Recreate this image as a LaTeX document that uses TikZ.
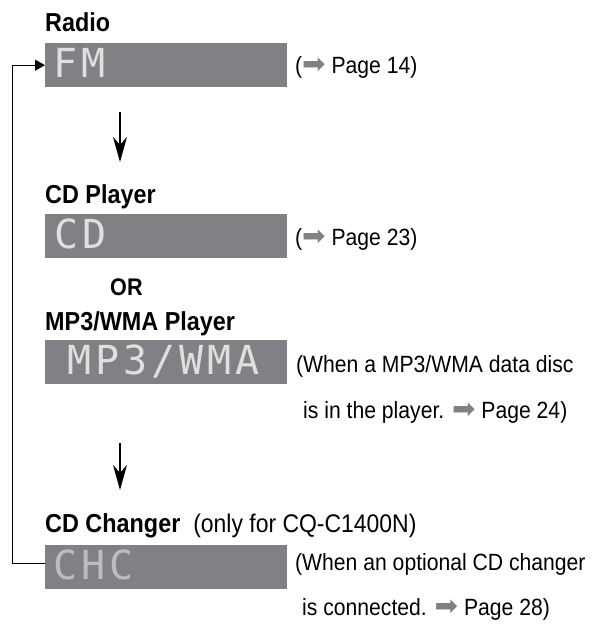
\documentclass[tikz,border=0pt]{standalone}
\usepackage{fontspec}
\setmainfont{Liberation Sans}[FakeStretch=0.9]
\newfontfamily\lcdfont{DejaVu Sans Mono}[LetterSpace=10]
\newfontfamily\symfont{DejaVu Sans}
\usetikzlibrary{arrows.meta,positioning}

\definecolor{panel}{RGB}{128,129,133}
\newcommand{\seepage}[1]{{\symfont\color{panel}\fontsize{28}{28}\selectfont ➡}\ Page #1}

\tikzstyle{heading} = [font=\fontsize{26}{28}\selectfont\bfseries,anchor=base west,inner sep=0pt]
\tikzstyle{display} = [fill=panel,minimum width=242pt,minimum height=44pt,anchor=north west,inner sep=0pt]
\tikzstyle{lcd} = [font=\fontsize{40}{40}\lcdfont,anchor=base west,inner sep=0pt]
\tikzstyle{note} = [font=\fontsize{23.5}{28}\selectfont,anchor=base west,inner sep=0pt]
\tikzstyle{flow} = [draw,line width=1.5pt,-{Stealth[length=25pt,width=14pt,inset=8pt]}]
\tikzstyle{loop line} = [draw,line width=0.9pt,-{Triangle[length=10pt,width=11pt]}]

\begin{document}
\begin{tikzpicture}[x=1pt,y=-1pt]
\useasboundingbox (0,0) rectangle (592,630);
% mode headings
\node[heading] (radio) at (45,31) {Radio};
\node[heading] (cdhead) at (45,203) {CD Player};
\node[heading,font=\fontsize{24}{26}\selectfont\bfseries] (or) at (110,295) {OR};
\node[heading] (mphead) at (45,330) {MP3/WMA Player};
\node[heading] (chchead) at (45,532) {CD Changer {\mdseries\fontsize{25.5}{28}\selectfont\ (only for CQ-C1400N)}};
% display panels
\foreach \name/\top/\shift/\shown/\tone in {fm/43/8/FM/white!75!panel, cd/214/9/CD/white!75!panel,
                                           mp/340/22/{MP3/WMA}/white!75!panel, chc/545/8/CHC/white!48!panel}{
  \node[display] (\name) at (45,\top) {};
  \node[lcd,text=\tone] (\name txt) at ([xshift=\shift pt,yshift=-34pt]\name.north west) {\shown};
}
% page references
\node[note] (fmnote) at (295,73) {(\seepage{14})};
\node[note] (cdnote) at (295,245) {(\seepage{23})};
\node[note] (mpnote) at (296,372) {(When a MP3/WMA data disc};
\node[note] (mpmore) at ([yshift=-46pt]mpnote.base west) {\hphantom{(}is in the player. \seepage{24})};
\node[note] (chcnote) at (295,570) {(When an optional CD changer};
\node[note] (chcmore) at ([yshift=-45pt]chcnote.base west) {\hphantom{(}is connected. \seepage{28})};
% order of modes
\draw[flow] ([xshift=75pt,yshift=-25pt]fm.south west) -- ([xshift=75pt,yshift=22pt]cdhead.north west);
\draw[flow] ([xshift=75pt,yshift=-59pt]mp.south west) -- ([xshift=75pt,yshift=23pt]chchead.north west);
\draw[loop line] ([yshift=4pt]chc.west) -- ++(-33,0) |- (fm.west);
\end{tikzpicture}
\end{document}
